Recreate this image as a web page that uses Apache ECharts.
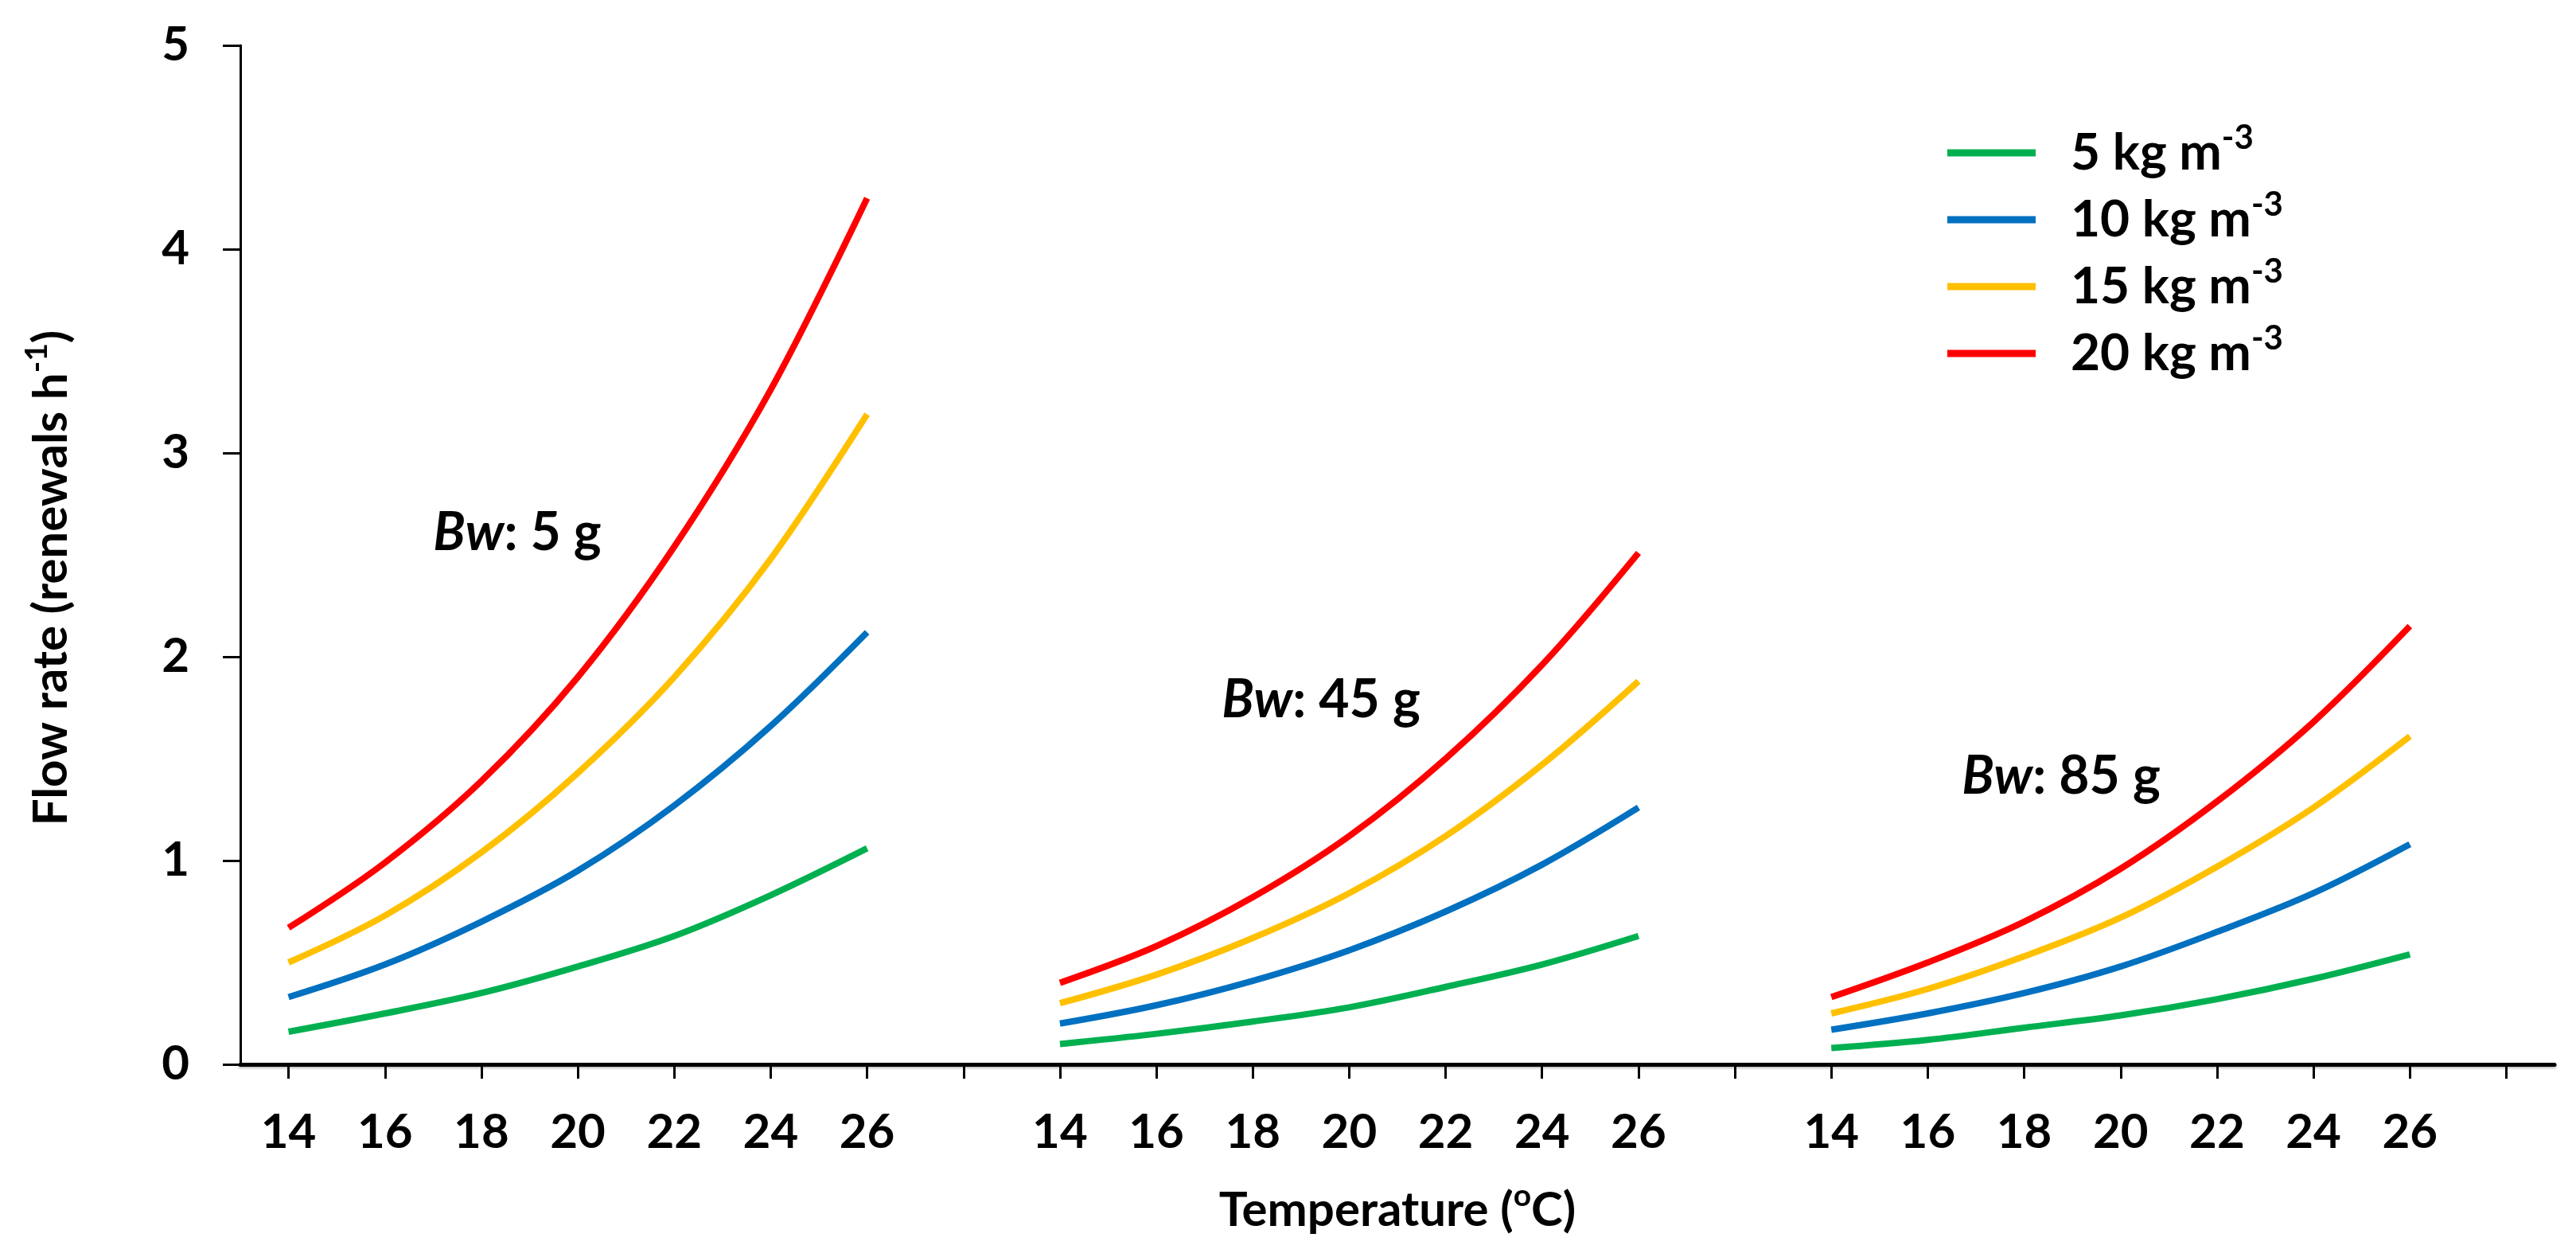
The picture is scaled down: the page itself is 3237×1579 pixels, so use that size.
<!DOCTYPE html>
<html>
<head>
<meta charset="utf-8">
<script src="https://cdn.jsdelivr.net/npm/echarts@6/dist/echarts.min.js"></script>
<style>
html,body{margin:0;padding:0;background:#fff;}
#chart{width:3237px;height:1579px;}
</style>
</head>
<body>
<div id="chart"></div>
<script>
// ---- Data ----
const tempLabels = ['14', '16', '18', '20', '22', '24', '26'];
const groupNames = ['Bw: 5 g', 'Bw: 45 g', 'Bw: 85 g'];
const seriesNames = ['5 kg m-3', '10 kg m-3', '15 kg m-3', '20 kg m-3'];
const seriesColors = ['#00B050', '#0070C0', '#FFC000', '#FF0000'];

// Bw 5 g
const bw5_d5  = [0.16, 0.25, 0.35, 0.48, 0.63, 0.83, 1.06];
const bw5_d10 = [0.33, 0.49, 0.70, 0.95, 1.27, 1.66, 2.12];
const bw5_d15 = [0.50, 0.73, 1.04, 1.43, 1.90, 2.48, 3.19];
const bw5_d20 = [0.67, 0.99, 1.39, 1.90, 2.54, 3.31, 4.25];
// Bw 45 g
const bw45_d5  = [0.10, 0.15, 0.21, 0.28, 0.38, 0.49, 0.63];
const bw45_d10 = [0.20, 0.29, 0.41, 0.56, 0.75, 0.98, 1.26];
const bw45_d15 = [0.30, 0.44, 0.62, 0.84, 1.12, 1.47, 1.88];
const bw45_d20 = [0.40, 0.58, 0.82, 1.12, 1.50, 1.96, 2.51];
// Bw 85 g
const bw85_d5  = [0.08, 0.12, 0.18, 0.24, 0.32, 0.42, 0.54];
const bw85_d10 = [0.17, 0.25, 0.35, 0.48, 0.65, 0.84, 1.08];
const bw85_d15 = [0.25, 0.37, 0.53, 0.72, 0.97, 1.26, 1.61];
const bw85_d20 = [0.33, 0.50, 0.70, 0.96, 1.29, 1.68, 2.15];

const yTicks = [0, 1, 2, 3, 4, 5];

// ---- Build category axis: each group followed by one empty slot ----
const categories = [];
for (let g = 0; g < groupNames.length; g++) {
  tempLabels.forEach(t => categories.push(t));
  categories.push('');
}
function joinGroups(a, b, c) {
  return [].concat(a, [null], b, [null], c, [null]);
}
const seriesData = [
  joinGroups(bw5_d5, bw45_d5, bw85_d5),
  joinGroups(bw5_d10, bw45_d10, bw85_d10),
  joinGroups(bw5_d15, bw45_d15, bw85_d15),
  joinGroups(bw5_d20, bw45_d20, bw85_d20)
];

const FONT = 'Lato';
const chart = echarts.init(document.getElementById('chart'), null, {renderer: 'canvas'});

const supRich = function (base) {
  return {
    a: {fontFamily: FONT, fontWeight: 'bold', fontSize: base, color: '#000', lineHeight: Math.round(base * 1.25)},
    s: {fontFamily: FONT, fontWeight: 'bold', fontSize: Math.round(base * 0.65), color: '#000', verticalAlign: 'top'}
  };
};

const annotationPos = [[650, 670], [1660, 880], [2590, 976]];

const option = {
  backgroundColor: '#fff',
  animation: false,
  grid: {left: 302, right: 27, top: 57, bottom: 242, containLabel: false, outerBoundsMode: 'none'},
  legend: {
    orient: 'vertical',
    left: 2442,
    top: 147,
    icon: 'rect',
    itemWidth: 111,
    itemHeight: 9,
    itemGap: 12,
    data: seriesNames,
    formatter: function (name) {
      return '{a|' + name.replace(/-3$/, '') + '}{s|-3}';
    },
    textStyle: {
      rich: {
        a: {fontFamily: FONT, fontWeight: 'bold', fontSize: 64, color: '#000', lineHeight: 80, padding: [0, 0, 0, 39]},
        s: {fontFamily: FONT, fontWeight: 'bold', fontSize: 42, color: '#000', verticalAlign: 'top'}
      }
    }
  },
  xAxis: {
    type: 'category',
    data: categories,
    boundaryGap: true,
    name: '{a|Temperature (}{s|o}{a|C)}',
    nameLocation: 'middle',
    nameGap: 146,
    nameTextStyle: {rich: supRich(60)},
    axisLine: {show: true, lineStyle: {color: '#000', width: 5, shadowColor: 'rgba(0,0,0,0.25)', shadowBlur: 3, shadowOffsetY: 2}},
    axisTick: {show: true, alignWithLabel: true, interval: 0, length: 18, lineStyle: {color: '#000', width: 3}},
    axisLabel: {interval: 0, margin: 56, fontFamily: FONT, fontWeight: 'bold', fontSize: 60, color: '#000'},
    splitLine: {show: false}
  },
  yAxis: {
    type: 'value',
    min: yTicks[0],
    max: yTicks[yTicks.length - 1],
    interval: 1,
    name: '{a|Flow rate (renewals h}{s|-1}{a|)}',
    nameLocation: 'middle',
    nameGap: 200,
    nameTextStyle: {rich: supRich(60), padding: [0, 58, 0, 0]},
    axisLine: {show: true, lineStyle: {color: '#000', width: 3}},
    axisTick: {show: true, length: 22, lineStyle: {color: '#000', width: 3}},
    axisLabel: {margin: 64, fontFamily: FONT, fontWeight: 'bold', fontSize: 60, color: '#000'},
    splitLine: {show: false}
  },
  graphic: groupNames.map(function (g, i) {
    const parts = g.split(':');
    return {
      type: 'text',
      x: annotationPos[i][0],
      y: annotationPos[i][1],
      style: {
        text: '{i|' + parts[0] + '}{n|:' + parts[1] + '}',
        align: 'center',
        verticalAlign: 'middle',
        rich: {
          i: {fontFamily: FONT, fontWeight: 'bold', fontStyle: 'italic', fontSize: 66, fill: '#000'},
          n: {fontFamily: FONT, fontWeight: 'bold', fontSize: 66, fill: '#000'}
        }
      }
    };
  }),
  series: seriesNames.map(function (n, i) {
    return {
      name: n,
      type: 'line',
      data: seriesData[i],
      showSymbol: false,
      symbol: 'none',
      smooth: 0.35,
      connectNulls: false,
      color: seriesColors[i],
      lineStyle: {width: 8, color: seriesColors[i]}
    };
  })
};
chart.setOption(option);
</script>
</body>
</html>
